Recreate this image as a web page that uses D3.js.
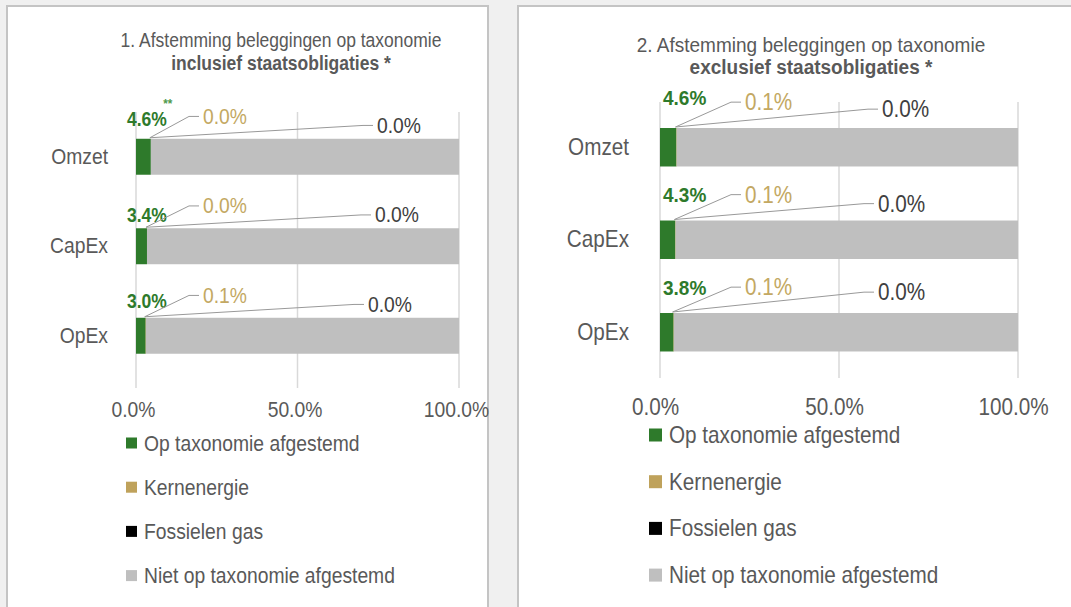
<!DOCTYPE html>
<html lang="nl">
  <head>
    <meta charset="utf-8"/>
    <title>Afstemming beleggingen op taxonomie</title>
    <script src="https://cdn.jsdelivr.net/npm/d3@7"></script>
    <style>
      body { margin: 0; background: #f0f0f0; }
      svg text { font-family: "Liberation Sans", Arial, sans-serif; }
    </style>
  </head>
  <body>
    <div id="chart"></div>
    <script>
     // categories and series (percent)
     const categories = ["Omzet", "CapEx", "OpEx"];
     const seriesNames = ["Op taxonomie afgestemd", "Kernenergie", "Fossielen gas", "Niet op taxonomie afgestemd"];
     const seriesColors = ["#2e7a2b", "#bfa25b", "#000000", "#bfbfbf"];
     const ticks = [0, 50, 100];

     // 1. inclusief staatsobligaties
     const inclAligned = [4.6, 3.4, 3.0];
     const inclNuclear = [0.0, 0.0, 0.1];
     const inclGas = [0.0, 0.0, 0.0];
     const inclNot = [95.4, 96.6, 96.9];
     const inclNote = ["**", "", ""];

     // 2. exclusief staatsobligaties
     const exclAligned = [4.6, 4.3, 3.8];
     const exclNuclear = [0.1, 0.1, 0.1];
     const exclGas = [0.0, 0.0, 0.0];
     const exclNot = [95.3, 95.6, 96.1];
     const exclNote = ["", "", ""];

     const svgWidth = 1071, svgHeight = 607;
     // the source font is a bit condensed: draw taller glyphs and squeeze them
     const sx = 0.9;

     let svg = d3.select("#chart")
                 .append("svg")
                 .attr("width", svgWidth)
                 .attr("height", svgHeight);

     svg.append("rect")
        .attr("width", svgWidth)
        .attr("height", svgHeight)
        .attr("fill", "#f0f0f0");

     function label(parent, x, y, size) {
         return parent.append("text")
                      .attr("transform", `translate(${x}, ${y}) scale(${sx}, 1)`)
                      .attr("font-size", size / sx);
     }

     function drawPanel(cfg) {
         let g = svg.append("g");

         g.append("rect")
          .attr("x", cfg.box[0])
          .attr("y", cfg.box[1])
          .attr("width", cfg.box[2])
          .attr("height", cfg.box[3])
          .attr("fill", "#fff")
          .attr("stroke", "#c4c4c4")
          .attr("stroke-width", 2);

         // title
         label(g, cfg.titleX, cfg.titleY, cfg.titleSize)
             .attr("text-anchor", "middle")
             .attr("fill", "#595959")
             .text(cfg.title1);
         label(g, cfg.titleX, cfg.titleY + cfg.titleGap, cfg.titleSize)
             .attr("text-anchor", "middle")
             .attr("font-weight", "bold")
             .attr("fill", "#595959")
             .text(cfg.title2);

         let xScale = d3.scaleLinear()
                        .domain([0, 100])
                        .range(cfg.xRange);

         let yScale = d3.scaleBand()
                        .domain(categories)
                        .range(cfg.yRange)
                        .paddingInner(cfg.pad)
                        .paddingOuter(cfg.pad / 2);

         // gridlines
         g.append("g")
          .selectAll("line")
          .data(ticks)
          .join("line")
          .attr("x1", d => xScale(d))
          .attr("x2", d => xScale(d))
          .attr("y1", cfg.gridY[0])
          .attr("y2", cfg.gridY[1])
          .attr("stroke", "#d9d9d9")
          .attr("stroke-width", 1.5);

         // x axis labels
         let xAxis = d3.axisBottom(xScale)
                       .tickValues(ticks)
                       .tickSize(0)
                       .tickPadding(0)
                       .tickFormat(d => d.toFixed(1) + "%");
         let ax = g.append("g")
                   .attr("transform", `translate(${cfg.tickDx}, ${cfg.tickY})`)
                   .call(xAxis);
         ax.select(".domain").remove();
         ax.selectAll("text")
           .attr("font-size", cfg.fontSize / sx)
           .attr("transform", `scale(${sx}, 1)`)
           .attr("fill", "#595959")
           .attr("dy", 0);

         // y axis labels
         let yAxis = d3.axisLeft(yScale).tickSize(0).tickPadding(0);
         let ay = g.append("g")
                   .attr("transform", `translate(${cfg.catX}, 0)`)
                   .call(yAxis);
         ay.select(".domain").remove();
         ay.selectAll("text")
           .attr("font-size", cfg.fontSize / sx)
           .attr("transform", `scale(${sx}, 1)`)
           .attr("fill", "#595959");

         // stacked bars
         let stacked = categories.map((c, i) => {
             let row = {cat: c};
             seriesNames.forEach((s, k) => row[s] = cfg.series[k][i]);
             return row;
         });
         let stack = d3.stack().keys(seriesNames)(stacked);

         g.append("g")
          .selectAll("g")
          .data(stack)
          .join("g")
          .attr("fill", (d, k) => seriesColors[k])
          .selectAll("rect")
          .data(d => d)
          .join("rect")
          .attr("x", d => xScale(d[0]))
          .attr("y", d => yScale(d.data.cat))
          .attr("width", d => xScale(d[1]) - xScale(d[0]))
          .attr("height", yScale.bandwidth());

         // data labels with leader lines
         categories.forEach((c, i) => {
             let top = yScale(c),
                 x0 = xScale(0),
                 xa = xScale(cfg.series[0][i]),
                 lab = cfg.labels;

             let green = label(g, x0 + lab.greenDx, top + lab.greenDy[i], cfg.boldSize)
                             .attr("font-weight", "bold")
                             .attr("fill", "#2e7a2b")
                             .text(cfg.series[0][i].toFixed(1) + "%");
             if (cfg.note[i]) {
                 green.append("tspan")
                      .attr("font-size", 13)
                      .attr("dx", -4)
                      .attr("dy", -18)
                      .attr("fill", "#4f9a4c")
                      .text(cfg.note[i]);
             }

             [[1, "#c3a862", lab.tanDx, lab.tanDy], [2, "#404040", lab.grayDx[i], lab.grayDy[i]]]
                 .forEach(([k, col, dx, dy]) => {
                     let tx = x0 + dx, ty = top + dy,
                         my = ty - cfg.fontSize * 0.38;
                     g.append("polyline")
                      .attr("points", [[xa - 1, top - 1], [tx - 14, my], [tx - 4, my]].join(" "))
                      .attr("fill", "none")
                      .attr("stroke", "#999")
                      .attr("stroke-width", 1);
                     label(g, tx, ty, cfg.fontSize)
                         .attr("fill", col)
                         .text(cfg.series[k][i].toFixed(1) + "%");
                 });
         });

         // legend
         let leg = g.append("g")
                    .selectAll("g")
                    .data(seriesNames)
                    .join("g")
                    .attr("transform", (d, k) => `translate(${cfg.legX}, ${cfg.legY + k * cfg.legGap})`);
         leg.append("rect")
            .attr("x", 0)
            .attr("y", -cfg.legBox / 2)
            .attr("width", cfg.legBox)
            .attr("height", cfg.legBox)
            .attr("fill", (d, k) => seriesColors[k]);
         leg.append("text")
            .attr("transform", `translate(${cfg.legBox + 7}, 0) scale(${sx}, 1)`)
            .attr("dy", "0.35em")
            .attr("font-size", cfg.fontSize / sx)
            .attr("fill", "#595959")
            .text(d => d);
     }

     drawPanel({
         box: [7, 6, 481, 620],
         title1: "1. Afstemming beleggingen op taxonomie",
         title2: "inclusief staatsobligaties *",
         titleX: 281, titleY: 47, titleSize: 17.5, titleGap: 23,
         xRange: [136, 459],
         yRange: [112, 380.5],
         pad: 0.598,
         gridY: [112, 388],
         tickY: 417, tickDx: -3,
         catX: 108,
         fontSize: 19.3, boldSize: 17.5,
         series: [inclAligned, inclNuclear, inclGas, inclNot],
         note: inclNote,
         labels: {greenDx: -9, greenDy: [-13, -6, -10], tanDx: 67, tanDy: -15,
                  grayDx: [241, 239, 232], grayDy: [-6, -6, -6]},
         legX: 126, legY: 443, legGap: 44.2, legBox: 11
     });

     drawPanel({
         box: [518, 6, 600, 620],
         title1: "2. Afstemming beleggingen op taxonomie",
         title2: "exclusief staatsobligaties *",
         titleX: 811, titleY: 52, titleSize: 19, titleGap: 22,
         xRange: [660, 1018],
         yRange: [101, 378.5],
         pad: 0.584,
         gridY: [102, 378],
         tickY: 415, tickDx: -5,
         catX: 629,
         fontSize: 20.7, boldSize: 19,
         series: [exclAligned, exclNuclear, exclGas, exclNot],
         note: exclNote,
         labels: {greenDx: 3, greenDy: [-23, -19, -18], tanDx: 85, tanDy: -18,
                  grayDx: [222, 218, 218], grayDy: [-11, -9, -13]},
         legX: 649, legY: 435, legGap: 46.7, legBox: 13
     });
    </script>
  </body>
</html>
